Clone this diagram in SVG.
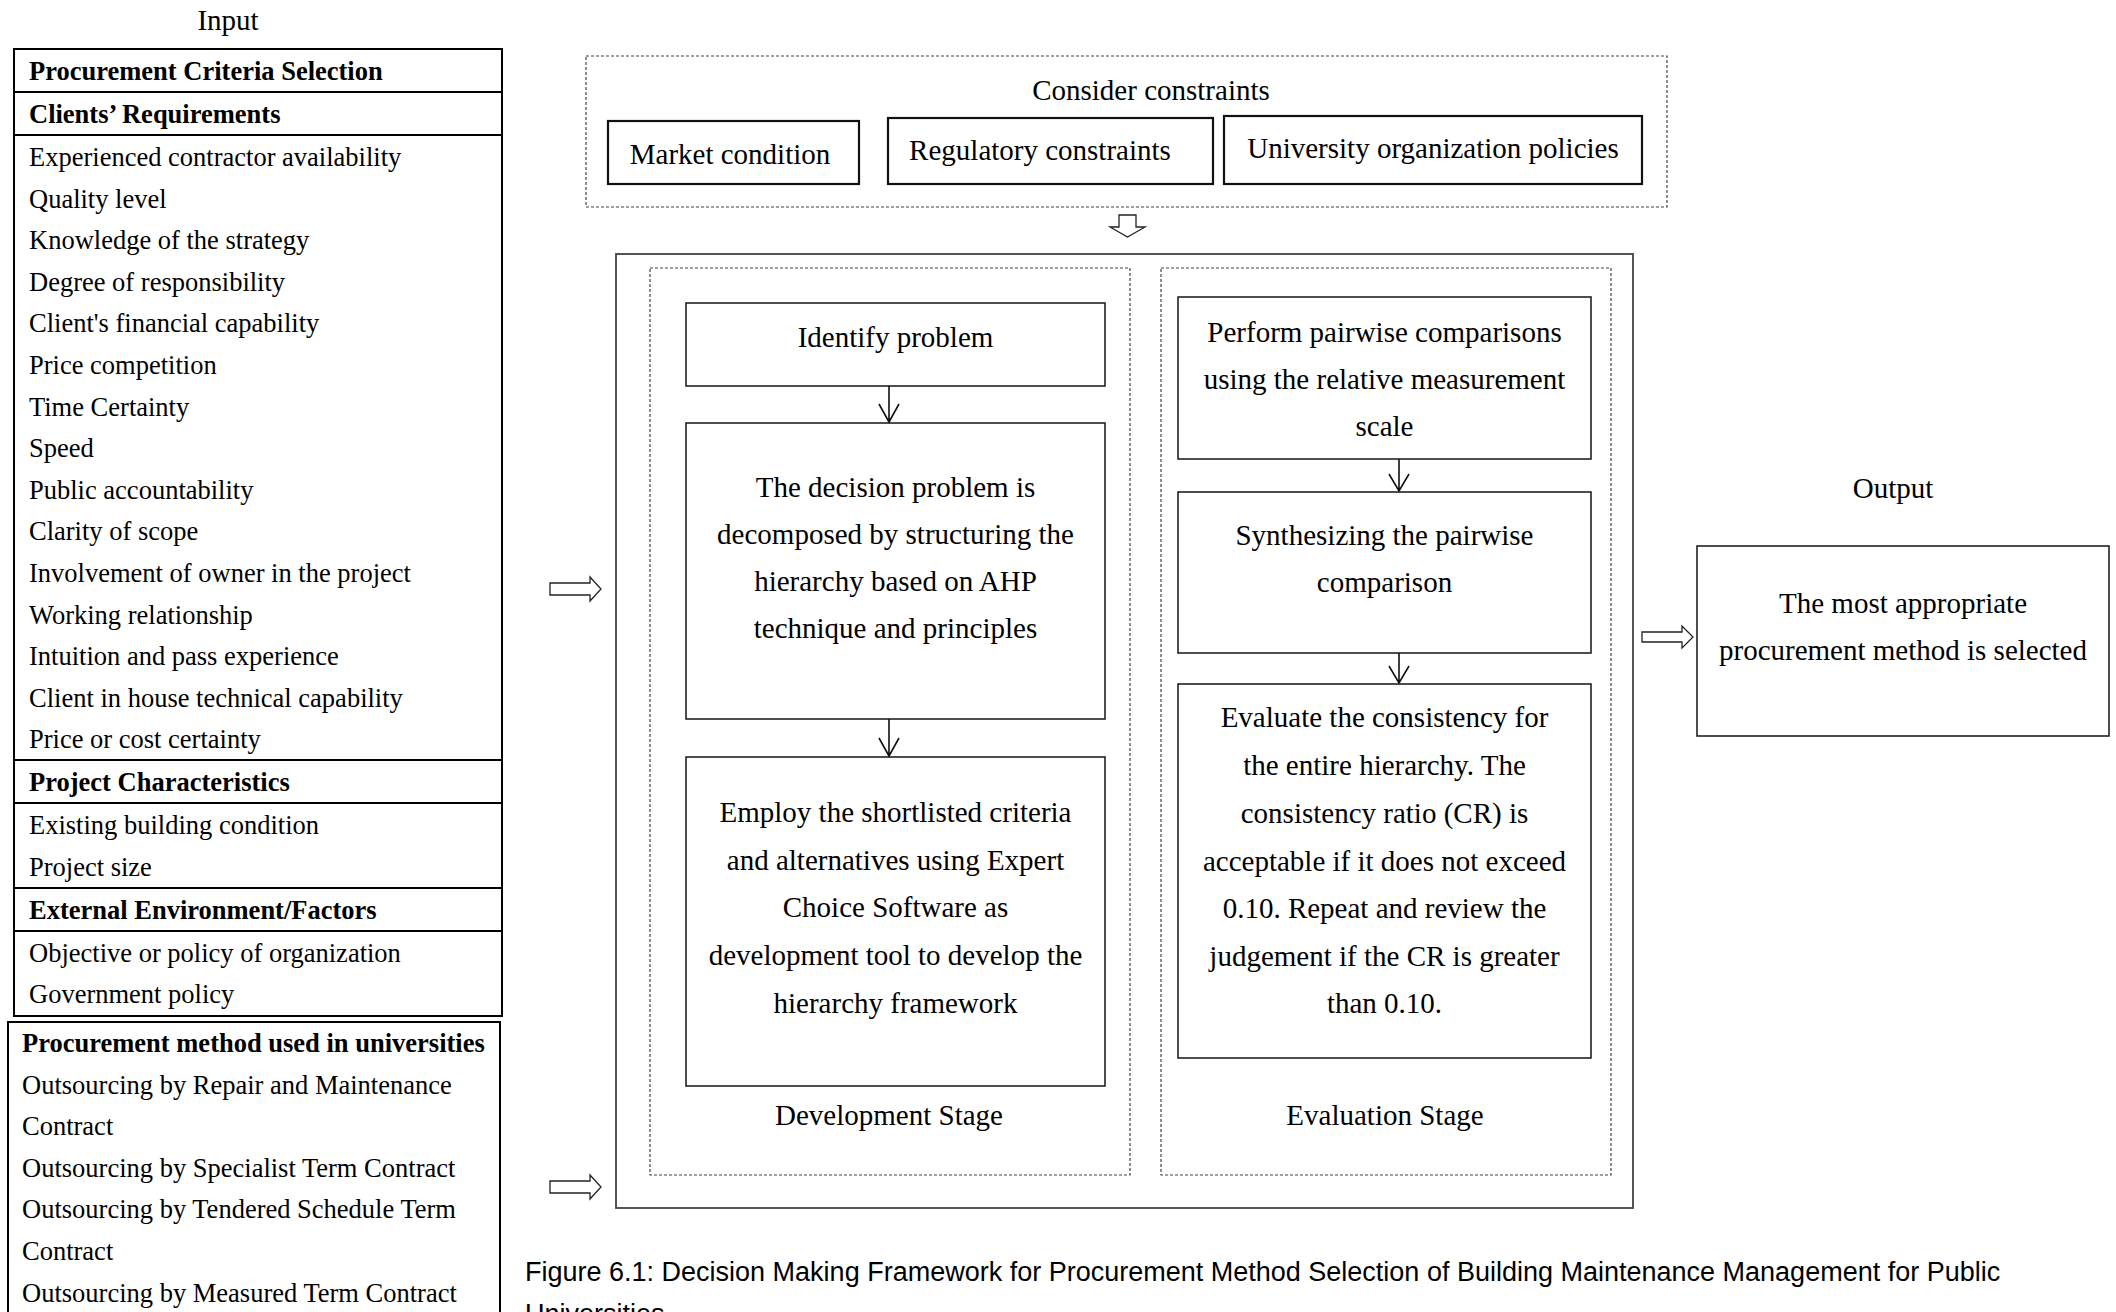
<svg xmlns="http://www.w3.org/2000/svg" width="2116" height="1312" viewBox="0 0 2116 1312">
<style>
text{font-family:"Liberation Serif","Times New Roman",serif;fill:#000}
.t{font-size:26.5px}
.b{font-size:26.5px;font-weight:bold}
.d{font-size:29px;text-anchor:middle}
.cap{font-family:"Liberation Sans",Arial,sans-serif;font-size:27px}
.tbl{fill:none;stroke:#000;stroke-width:2}
.sep{stroke:#000;stroke-width:2}
.bx{fill:#fff;stroke:#222;stroke-width:1.6}
.cb{fill:#fff;stroke:#111;stroke-width:2.2}
.dot{fill:none;stroke:#444;stroke-width:1.2;stroke-dasharray:3 2}
.outer{fill:none;stroke:#444;stroke-width:1.8}
.ha{fill:#fff;stroke:#222;stroke-width:1.3}
.ln{stroke:#111;stroke-width:1.6;fill:none}
</style>
<rect width="2116" height="1312" fill="#fff"/>

<g id="input-label"><text class="d" x="228" y="30">Input</text></g>

<g id="criteria-table">
<rect class="tbl" x="14" y="49" width="488" height="967"/>
<line class="sep" x1="14" y1="92" x2="502" y2="92"/>
<line class="sep" x1="14" y1="135" x2="502" y2="135"/>
<line class="sep" x1="14" y1="760" x2="502" y2="760"/>
<line class="sep" x1="14" y1="803" x2="502" y2="803"/>
<line class="sep" x1="14" y1="888" x2="502" y2="888"/>
<line class="sep" x1="14" y1="931" x2="502" y2="931"/>
<text class="b" x="29" y="80">Procurement Criteria Selection</text>
<text class="b" x="29" y="123">Clients’ Requirements</text>
<text class="t" x="29" y="166">Experienced contractor availability</text>
<text class="t" x="29" y="207.6">Quality level</text>
<text class="t" x="29" y="249.2">Knowledge of the strategy</text>
<text class="t" x="29" y="290.8">Degree of responsibility</text>
<text class="t" x="29" y="332.4">Client's financial capability</text>
<text class="t" x="29" y="374">Price competition</text>
<text class="t" x="29" y="415.6">Time Certainty</text>
<text class="t" x="29" y="457.2">Speed</text>
<text class="t" x="29" y="498.8">Public accountability</text>
<text class="t" x="29" y="540.4">Clarity of scope</text>
<text class="t" x="29" y="582">Involvement of owner in the project</text>
<text class="t" x="29" y="623.6">Working relationship</text>
<text class="t" x="29" y="665.2">Intuition and pass experience</text>
<text class="t" x="29" y="706.8">Client in house technical capability</text>
<text class="t" x="29" y="748.4">Price or cost certainty</text>
<text class="b" x="29" y="791">Project Characteristics</text>
<text class="t" x="29" y="834">Existing building condition</text>
<text class="t" x="29" y="876">Project size</text>
<text class="b" x="29" y="919">External Environment/Factors</text>
<text class="t" x="29" y="962">Objective or policy of organization</text>
<text class="t" x="29" y="1003">Government policy</text>
</g>

<g id="methods-table">
<rect class="tbl" x="8" y="1022" width="492" height="300"/>
<text class="b" x="22" y="1052">Procurement method used in universities</text>
<text class="t" x="22" y="1093.6">Outsourcing by Repair and Maintenance</text>
<text class="t" x="22" y="1135.2">Contract</text>
<text class="t" x="22" y="1176.8">Outsourcing by Specialist Term Contract</text>
<text class="t" x="22" y="1218.4">Outsourcing by Tendered Schedule Term</text>
<text class="t" x="22" y="1260">Contract</text>
<text class="t" x="22" y="1301.6">Outsourcing by Measured Term Contract</text>
</g>

<g id="constraints">
<rect class="dot" x="586" y="56" width="1081" height="151"/>
<text class="d" x="1151" y="100">Consider constraints</text>
</g>
<g id="market-condition">
<rect class="cb" x="608" y="121" width="251" height="63"/>
<text class="d" x="730" y="164">Market condition</text>
</g>
<g id="regulatory-constraints">
<rect class="cb" x="888" y="118" width="325" height="66"/>
<text class="d" x="1040" y="160">Regulatory constraints</text>
</g>
<g id="university-policies">
<rect class="cb" x="1224" y="116" width="418" height="68"/>
<text class="d" x="1433" y="158">University organization policies</text>
</g>

<g id="framework">
<rect class="outer" x="616" y="254" width="1017" height="954"/>
</g>

<g id="development-stage">
<rect class="dot" x="650" y="268" width="480" height="907"/>
<text class="d" x="889" y="1125">Development Stage</text>
</g>
<g id="identify-problem">
<rect class="bx" x="686" y="303" width="419" height="83"/>
<text class="d" x="895.5" y="347">Identify problem</text>
</g>
<g id="decompose">
<rect class="bx" x="686" y="423" width="419" height="296"/>
<text class="d" x="895.5" y="497">The decision problem is</text>
<text class="d" x="895.5" y="544">decomposed by structuring the</text>
<text class="d" x="895.5" y="591">hierarchy based on AHP</text>
<text class="d" x="895.5" y="638">technique and principles</text>
</g>
<g id="employ">
<rect class="bx" x="686" y="757" width="419" height="329"/>
<text class="d" x="895.5" y="822">Employ the shortlisted criteria</text>
<text class="d" x="895.5" y="870">and alternatives using Expert</text>
<text class="d" x="895.5" y="917">Choice Software as</text>
<text class="d" x="895.5" y="965">development tool to develop the</text>
<text class="d" x="895.5" y="1013">hierarchy framework</text>
</g>

<g id="evaluation-stage">
<rect class="dot" x="1161" y="268" width="450" height="907"/>
<text class="d" x="1385" y="1125">Evaluation Stage</text>
</g>
<g id="pairwise">
<rect class="bx" x="1178" y="297" width="413" height="162"/>
<text class="d" x="1384.5" y="342">Perform pairwise comparisons</text>
<text class="d" x="1384.5" y="389">using the relative measurement</text>
<text class="d" x="1384.5" y="436">scale</text>
</g>
<g id="synthesize">
<rect class="bx" x="1178" y="492" width="413" height="161"/>
<text class="d" x="1384.5" y="545">Synthesizing the pairwise</text>
<text class="d" x="1384.5" y="592">comparison</text>
</g>
<g id="consistency">
<rect class="bx" x="1178" y="684" width="413" height="374"/>
<text class="d" x="1384.5" y="727">Evaluate the consistency for</text>
<text class="d" x="1384.5" y="775">the entire hierarchy. The</text>
<text class="d" x="1384.5" y="823">consistency ratio (CR) is</text>
<text class="d" x="1384.5" y="871">acceptable if it does not exceed</text>
<text class="d" x="1384.5" y="918">0.10. Repeat and review the</text>
<text class="d" x="1384.5" y="966">judgement if the CR is greater</text>
<text class="d" x="1384.5" y="1013">than 0.10.</text>
</g>

<g id="output-label"><text class="d" x="1893" y="498">Output</text></g>
<g id="output">
<rect class="bx" x="1697" y="546" width="412" height="190"/>
<text class="d" x="1903" y="613">The most appropriate</text>
<text class="d" x="1903" y="660">procurement method is selected</text>
</g>

<g id="connectors">
<path class="ha" d="M1119,215 H1136 V227 H1145 L1127.5,237 L1110,227 H1119 Z"/>
<path class="ha" d="M550,583 H590 V577 L601,589 L590,601 V595 H550 Z"/>
<path class="ha" d="M550,1181 H590 V1175 L601,1187 L590,1199 V1193 H550 Z"/>
<path class="ha" d="M1642,632 H1682 V626 L1693,637 L1682,648 V642 H1642 Z"/>
<path class="ln" d="M889,386 V422 M879,404 L889,422 L899,404"/>
<path class="ln" d="M889,719 V756 M879,738 L889,756 L899,738"/>
<path class="ln" d="M1399,459 V491 M1389,474 L1399,491 L1409,474"/>
<path class="ln" d="M1399,653 V683 M1389,666 L1399,683 L1409,666"/>
</g>

<g id="caption">
<text class="cap" x="525" y="1281">Figure 6.1: Decision Making Framework for Procurement Method Selection of Building Maintenance Management for Public</text>
<text class="cap" x="525" y="1323">Universities</text>
</g>
</svg>
